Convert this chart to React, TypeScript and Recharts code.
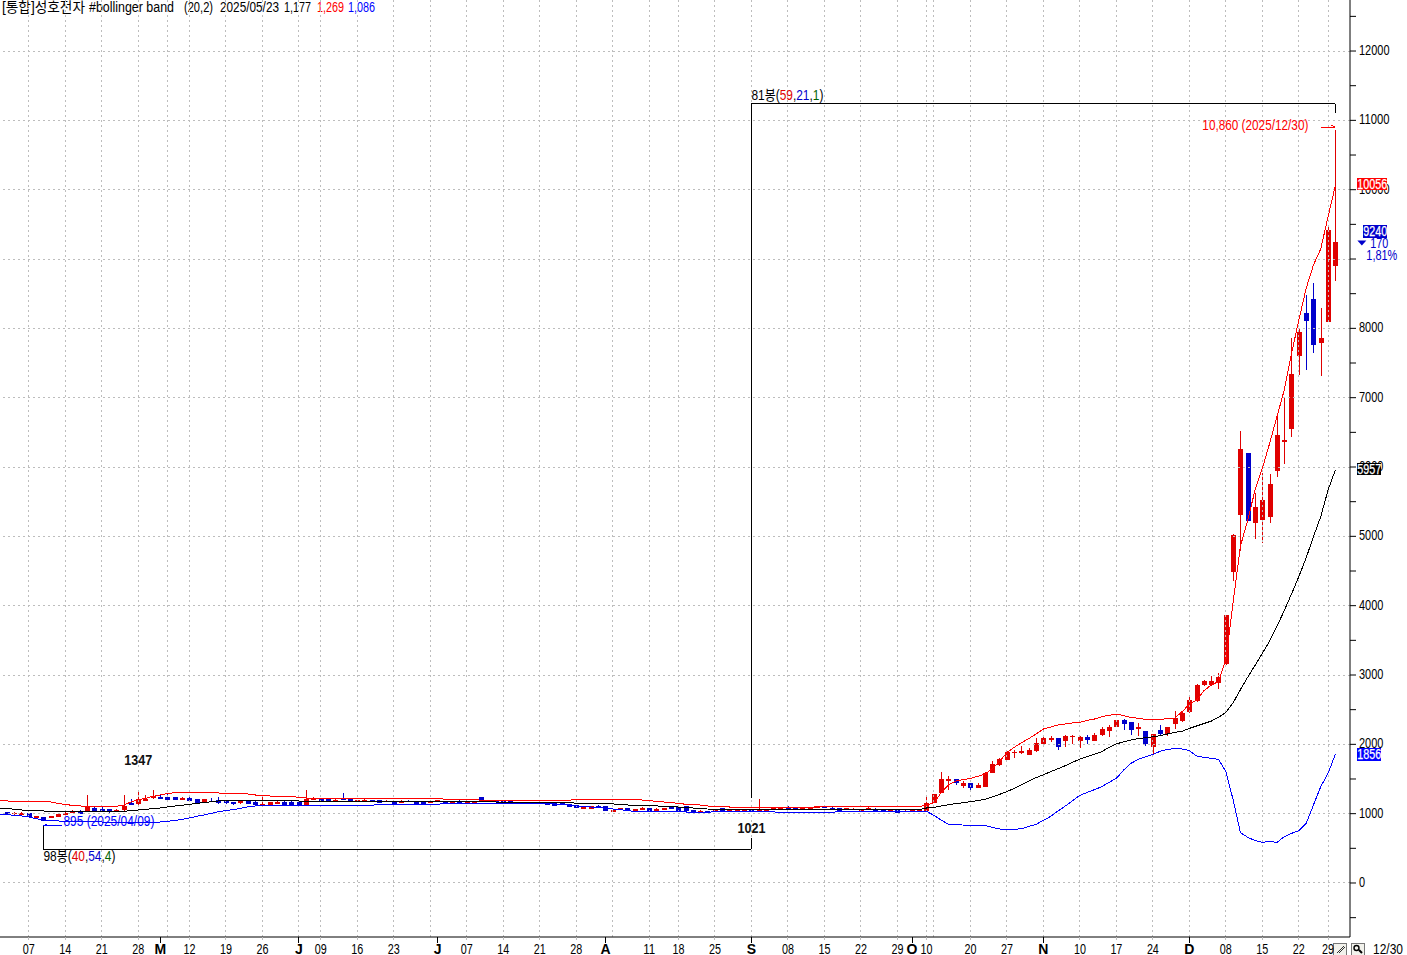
import React from "react";
import { ComposedChart, Bar, Line, XAxis, YAxis, ReferenceLine, ReferenceDot } from "recharts";

const dates = [
  "04/01","04/02","04/03","04/04","04/07","04/08","04/09","04/10","04/11","04/14","04/15",
  "04/16","04/17","04/18","04/21","04/22","04/23","04/24","04/25","04/28","04/29",
  "04/30","05/02","05/07","05/08","05/09","05/12","05/13","05/14","05/15","05/16",
  "05/19","05/20","05/21","05/22","05/23","05/26","05/27","05/28","05/29","05/30",
  "06/02","06/04","06/05","06/09","06/10","06/11","06/12","06/13","06/16","06/17",
  "06/18","06/19","06/20","06/23","06/24","06/25","06/26","06/27","06/30","07/01",
  "07/02","07/03","07/04","07/07","07/08","07/09","07/10","07/11","07/14","07/15",
  "07/16","07/17","07/18","07/21","07/22","07/23","07/24","07/25","07/28","07/29",
  "07/30","07/31","08/01","08/04","08/05","08/06","08/07","08/08","08/11","08/12",
  "08/13","08/14","08/18","08/19","08/20","08/21","08/22","08/25","08/26","08/27",
  "08/28","08/29","09/01","09/02","09/03","09/04","09/05","09/08","09/09","09/10",
  "09/11","09/12","09/15","09/16","09/17","09/18","09/19","09/22","09/23","09/24",
  "09/25","09/26","09/29","09/30","10/01","10/02","10/10","10/13","10/14","10/15",
  "10/16","10/17","10/20","10/21","10/22","10/23","10/24","10/27","10/28","10/29",
  "10/30","10/31","11/03","11/04","11/05","11/06","11/07","11/10","11/11","11/12",
  "11/13","11/14","11/17","11/18","11/19","11/20","11/21","11/24","11/25","11/26",
  "11/27","11/28","12/01","12/02","12/03","12/04","12/05","12/08","12/09","12/10",
  "12/11","12/12","12/15","12/16","12/17","12/18","12/19","12/22","12/23","12/24",
  "12/26","12/29","12/30",
];

const opens = [
  null,1020,1000,986,1005,952,952,943,952,981,1015,
  1039,1024,1082,1063,1063,1039,1053,1149,1135,1188,
  1222,1236,1246,1236,1217,1226,1207,1174,1188,1198,
  1178,1169,1149,1178,1164,1130,1130,1159,1174,1174,
  1169,1130,1207,1212,1212,1178,1216,1212,1188,1178,
  1197,1197,1183,1173,1154,1188,1173,1173,1154,1183,
  1178,1154,1178,1154,1154,1241,1178,1188,1188,1183,
  1154,1164,1164,1154,1159,1159,1159,1140,1125,1067,
  1067,1116,1111,1039,1053,1082,1053,1053,1082,1053,
  1053,1091,1091,1111,1053,1024,1034,1034,1082,1034,
  1034,1034,1063,1034,1034,1063,1063,1091,1087,1063,
  1063,1082,1101,1087,1082,1063,1053,1058,1077,1072,
  1053,1039,1053,1034,1034,1034,1043,1158,1303,1476,
  1495,1404,1442,1375,1389,1591,1707,1779,1875,1880,
  1851,1904,2009,2072,2091,2053,2115,2053,2106,2053,
  2134,2192,2255,2351,2317,2231,2187,1966,2202,2149,
  2298,2336,2466,2625,2860,2851,2889,3163,4490,5308,
  6200,5197,5240,5284,5947,6361,6553,7606,8221,8423,
  7789,8096,8904,
];
const highs = [
  null,1029,1029,1020,1010,967,957,972,1000,1020,1053,
  1053,1270,1101,1101,1068,1073,1274,1207,1347,1270,
  1342,1270,1284,1241,1246,1246,1212,1217,1226,1236,
  1183,1174,1183,1183,1178,1236,1174,1183,1178,1178,
  1174,1342,1241,1216,1216,1221,1298,1216,1202,1221,
  1202,1202,1202,1178,1197,1202,1178,1178,1178,1197,
  1183,1178,1202,1178,1178,1246,1197,1192,1192,1188,
  1173,1168,1168,1173,1164,1164,1173,1144,1130,1106,
  1116,1130,1116,1058,1087,1087,1067,1096,1087,1082,
  1082,1096,1096,1116,1058,1053,1039,1063,1087,1063,
  1063,1063,1068,1216,1068,1096,1096,1116,1091,1091,
  1091,1111,1111,1106,1087,1087,1077,1072,1101,1077,
  1058,1053,1058,1048,1067,1067,1245,1283,1601,1543,
  1495,1476,1442,1447,1595,1755,1807,1904,1918,1976,
  1947,2086,2110,2120,2091,2134,2134,2115,2134,2158,
  2245,2274,2351,2365,2317,2307,2187,2144,2274,2250,
  2476,2471,2678,2865,2928,2985,3033,3865,5030,6519,
  6200,5620,5909,5894,6726,6990,7856,7990,8481,8659,
  8289,9491,10860,
];
const lows = [
  null,981,986,981,943,947,895,938,947,976,1010,
  995,1020,1034,1048,1015,1034,1044,1135,1130,1183,
  1217,1222,1198,1198,1198,1183,1154,1169,1169,1145,
  1145,1130,1145,1140,1116,1125,1125,1154,1120,1120,
  1116,1125,1202,1168,1168,1173,1192,1168,1183,1173,
  1168,1149,1178,1125,1149,1173,1125,1125,1149,1178,
  1144,1149,1144,1149,1149,1187,1173,1163,1168,1144,
  1149,1144,1144,1149,1125,1111,1144,1091,1077,1062,
  1062,1082,1038,1034,1048,1038,1048,1048,1029,1048,
  1048,1067,1029,1029,1005,1019,1005,1029,1029,1029,
  1029,1029,1021,1029,1029,1058,1058,1077,1058,1058,
  1058,1077,1082,1067,1029,1058,1048,1053,1072,1029,
  1024,1034,1010,1029,1029,1029,1029,1150,1293,1341,
  1413,1375,1317,1365,1385,1585,1687,1770,1807,1860,
  1841,1894,1995,2038,1918,1961,2005,1952,2005,2048,
  2125,2110,2250,2207,2139,2120,1980,1860,2115,2125,
  2221,2327,2456,2606,2846,2846,2798,3139,4361,4793,
  5221,4966,4909,5197,5861,6048,6438,7327,7399,7645,
  7318,8096,8688,
];
const closes = [
  null,986,1015,1015,947,967,899,967,996,1015,1034,
  1000,1101,1039,1053,1020,1053,1111,1140,1207,1207,
  1255,1226,1202,1202,1226,1188,1159,1212,1174,1149,
  1149,1135,1178,1145,1121,1140,1169,1169,1125,1125,
  1121,1212,1221,1173,1173,1197,1197,1173,1197,1197,
  1173,1154,1188,1130,1173,1178,1130,1130,1173,1192,
  1149,1173,1149,1173,1173,1192,1192,1168,1173,1149,
  1168,1149,1149,1168,1130,1116,1149,1096,1082,1101,
  1111,1087,1043,1053,1082,1043,1063,1082,1034,1063,
  1077,1072,1034,1034,1010,1034,1010,1063,1034,1058,
  1058,1058,1034,1063,1063,1091,1091,1082,1063,1087,
  1087,1106,1087,1072,1034,1082,1072,1063,1082,1034,
  1029,1048,1015,1043,1063,1063,1149,1279,1500,1500,
  1437,1442,1370,1418,1591,1716,1793,1889,1894,1904,
  1918,2019,2091,2091,1966,2120,2125,2106,2067,2130,
  2221,2250,2346,2298,2211,2245,2009,2144,2149,2250,
  2375,2447,2639,2856,2913,2913,2971,3865,5019,6260,
  5221,5419,5519,5750,6457,6390,7342,7947,8111,7765,
  7861,9419,9240,
];
const upperBand = [
  1188,1183,1178,1178,1178,1178,1178,1169,1149,1130,1121,
  1111,1106,1106,1106,1106,1106,1125,1169,1198,1222,
  1250,1270,1289,1303,1308,1308,1303,1303,1303,1298,
  1298,1294,1294,1284,1270,1255,1255,1250,1246,1246,
  1236,1226,1221,1221,1221,1221,1221,1221,1221,1221,
  1221,1221,1221,1221,1221,1221,1221,1221,1221,1221,
  1207,1207,1207,1207,1207,1192,1192,1192,1192,1192,
  1192,1192,1192,1192,1192,1192,1192,1192,1207,1207,
  1207,1207,1207,1207,1207,1202,1202,1197,1188,1178,
  1168,1159,1149,1135,1125,1125,1111,1101,1101,1096,
  1087,1087,1087,1087,1087,1087,1087,1087,1087,1087,
  1087,1101,1101,1101,1101,1101,1101,1101,1101,1101,
  1101,1101,1101,1101,1101,1101,1125,1158,1303,1413,
  1471,1490,1509,1538,1572,1649,1755,1880,1957,2024,
  2082,2149,2221,2250,2279,2293,2308,2317,2346,2365,
  2399,2418,2437,2413,2389,2375,2360,2356,2360,2370,
  2380,2471,2577,2639,2774,2856,2904,3220,4058,4860,
  5236,5668,5981,6341,6726,7111,7640,8120,8577,8914,
  9145,9611,10058,
];
const middleBand = [
  1082,1077,1063,1053,1048,1044,1039,1034,1034,1034,1034,
  1034,1034,1034,1034,1034,1034,1034,1044,1053,1063,
  1073,1082,1097,1111,1121,1135,1149,1159,1173,1183,
  1183,1183,1183,1183,1183,1183,1183,1183,1183,1183,
  1183,1173,1173,1173,1173,1173,1173,1173,1173,1173,
  1173,1173,1173,1173,1173,1173,1178,1178,1178,1178,
  1178,1178,1173,1173,1173,1173,1170,1168,1164,1164,
  1164,1164,1162,1162,1160,1159,1157,1155,1153,1151,
  1149,1149,1144,1140,1135,1125,1120,1116,1116,1111,
  1106,1101,1096,1092,1082,1072,1067,1063,1063,1063,
  1063,1063,1063,1063,1063,1063,1063,1063,1063,1063,
  1063,1067,1067,1067,1067,1067,1067,1067,1067,1067,
  1067,1067,1067,1063,1058,1058,1082,1091,1110,1130,
  1144,1158,1173,1187,1207,1240,1279,1317,1365,1418,
  1471,1519,1562,1606,1649,1692,1740,1788,1822,1860,
  1894,1957,2005,2038,2062,2082,2096,2110,2125,2149,
  2173,2187,2230,2265,2300,2335,2390,2462,2600,2790,
  2970,3140,3312,3490,3700,3930,4170,4420,4690,4995,
  5284,5668,5957,
];
const lowerBand = [
  990,986,976,967,952,928,909,904,895,890,885,
  885,880,880,880,875,875,875,875,871,871,
  871,880,890,900,919,938,962,981,1005,1029,
  1044,1058,1077,1097,1111,1116,1116,1116,1116,1116,
  1116,1120,1120,1120,1120,1120,1120,1120,1120,1120,
  1120,1135,1135,1135,1135,1135,1135,1135,1135,1135,
  1149,1149,1149,1149,1149,1149,1149,1149,1149,1149,
  1149,1149,1149,1149,1144,1140,1135,1125,1111,1101,
  1096,1092,1077,1067,1058,1043,1034,1034,1034,1034,
  1029,1029,1024,1024,1019,1015,1015,1034,1034,1034,
  1030,1029,1029,1028,1026,1024,1023,1022,1019,1017,
  1015,1015,1015,1015,1034,1034,1034,1034,1034,1034,
  1034,1034,1034,1034,1034,1034,1033,976,908,846,
  841,836,836,836,831,803,779,774,774,783,
  817,846,904,961,1038,1110,1187,1264,1307,1346,
  1389,1452,1509,1630,1726,1783,1822,1856,1899,1928,
  1937,1933,1909,1832,1813,1798,1784,1606,1197,726,
  659,611,586,601,586,668,716,755,861,1125,
  1390,1582,1856,
];

const gridDates = [
  "04/07","04/14","04/21","04/28","05/07","05/12","05/19","05/26","06/02","06/09",
  "06/16","06/23","06/30","07/07","07/14","07/21","07/28","08/04","08/11","08/18",
  "08/25","09/01","09/08","09/15","09/22","09/29","10/10","10/13","10/20","10/27",
  "11/03","11/10","11/17","11/24","12/01","12/08","12/15","12/22","12/29",
];
const tickDates = [
  "04/07","04/14","04/21","04/28","05/02","05/12","05/19","05/26","06/02","06/09",
  "06/16","06/23","07/01","07/07","07/14","07/21","07/28","08/01","08/11","08/18",
  "08/25","09/01","09/08","09/15","09/22","09/29","10/01","10/10","10/20","10/27",
  "11/03","11/10","11/17","11/24","12/01","12/08","12/15","12/22","12/29",
];
const tickLabels = [
  "07","14","21","28","M","12","19","26","J","09",
  "16","23","J","07","14","21","28","A","11","18",
  "25","S","08","15","22","29","O","10","20","27",
  "N","10","17","24","D","08","15","22","29",
];
const priceTicks = [-500,0,500,1000,1500,2000,2500,3000,3500,4000,4500,5000,5500,6000,6500,7000,7500,8000,8500,9000,9500,10000,10500,11000,11500,12000,12500];
const priceGrid = [0,1000,2000,3000,4000,5000,6000,7000,8000,9000,10000,11000,12000];
const hiddenPriceLabels = [9000, 10000, 6000];
const coveredPriceLabels = [10000, 6000];

const FONT = '"Liberation Sans","Noto Sans CJK KR",sans-serif';
const RED = "#E00000";
const BLUE = "#0000CC";
const GRID = "#BDBDBD";

const rows = dates.map((date, i) => ({
  date,
  open: opens[i],
  high: highs[i],
  low: lows[i],
  close: closes[i],
  range: highs[i] == null ? null : [lows[i], highs[i]],
  upper: upperBand[i],
  middle: middleBand[i],
  lower: lowerBand[i],
}));

function Candle(props: any) {
  const { x, y, width, height, payload } = props;
  if (payload.high == null) return null;
  const k = height / Math.max(1, payload.high - payload.low);
  const top = y + (payload.high - Math.max(payload.open, payload.close)) * k;
  const bodyH = Math.max(1.6, Math.abs(payload.open - payload.close) * k);
  const color = payload.close >= payload.open ? RED : BLUE;
  const cx = Math.round(x + width / 2);
  return (
    <g shapeRendering="crispEdges">
      <rect x={cx} y={y} width={1} height={height} fill={color} />
      <rect x={cx - 2} y={top} width={5} height={bodyH} fill={color} />
    </g>
  );
}

const narrow = (w: number) => ({ textLength: w, lengthAdjust: "spacingAndGlyphs" as const });
const textProps = { fontFamily: FONT, fontSize: 14 };

function XTick(props: any) {
  const { x, payload } = props;
  const label = tickLabels[tickDates.indexOf(payload.value)];
  const month = /[A-Z]/.test(label);
  const isGrid = gridDates.includes(payload.value);
  return (
    <g>
      {month && <line x1={x} x2={x} y1={937} y2={943} stroke="#000" shapeRendering="crispEdges" />}
      {isGrid && !month && <line x1={x} x2={x} y1={937} y2={940} stroke={GRID} shapeRendering="crispEdges" />}
      {month ? (
        <text x={x} y={954} textAnchor="middle" {...textProps} fontWeight={700} fill="#000">
          {label}
        </text>
      ) : (
        <text x={x} y={954} textAnchor="middle" {...textProps} {...narrow(12)} fill="#000">
          {label}
        </text>
      )}
    </g>
  );
}

function YTick(props: any) {
  const { y, payload } = props;
  if (payload.value % 1000 !== 0 || hiddenPriceLabels.includes(payload.value)) return <g />;
  const s = String(payload.value);
  return (
    <text x={1359} y={y + 4} textAnchor="start" {...textProps} {...narrow(s.length * 6.1)} fill="#000">
      {s}
    </text>
  );
}

function PriceFlag({ value, bg, label, dx, w, up }: { value: number; bg: string; label: string; dx: number; w: number; up: number }) {
  return (
    <ReferenceDot
      x="12/30"
      y={value}
      r={0}
      ifOverflow="visible"
      shape={(p: any) => (
        <g>
          <rect x={p.cx + dx} y={p.cy - up} width={w} height={12.5} fill={bg} shapeRendering="crispEdges" />
          <text x={p.cx + dx} y={p.cy - up + 11} {...textProps} {...narrow(w)} fill="#fff" stroke="#fff" strokeWidth={0.25}>
            {label}
          </text>
        </g>
      )}
    />
  );
}

export default function App() {
  return (
    <div style={{ position: "absolute", left: 0, top: 0, width: 1407, height: 955, background: "#fff" }}>
      <ComposedChart
        width={1407}
        height={955}
        data={rows}
        margin={{ top: 0, right: 0, bottom: 0, left: 0 }}
        barCategoryGap={0}
      >
        <XAxis
          dataKey="date"
          ticks={tickDates}
          interval={0}
          height={18}
          tickLine={false}
          tick={<XTick />}
          padding={{ left: -4, right: 11 }}
          axisLine={{ stroke: "#000" }}
        />
        <YAxis
          orientation="right"
          width={57}
          type="number"
          domain={[-779, 12736]}
          allowDataOverflow
          ticks={priceTicks}
          interval={0}
          tickSize={6}
          tickMargin={3}
          tick={<YTick />}
          tickLine={{ stroke: "#000" }}
          axisLine={{ stroke: "#000" }}
        />
        {priceGrid.map((v) => (
          <ReferenceLine key={v} y={v} stroke={GRID} strokeDasharray="2 3" shapeRendering="crispEdges" />
        ))}
        {gridDates.map((d) => (
          <ReferenceLine key={d} x={d} stroke={GRID} strokeDasharray="2 3" shapeRendering="crispEdges" />
        ))}
        <Bar dataKey="range" barSize={5} isAnimationActive={false} shape={<Candle />} />
        <Line dataKey="upper" type="linear" stroke="#FF0000" strokeWidth={1} dot={false} activeDot={false} isAnimationActive={false} shapeRendering="crispEdges" />
        <Line dataKey="middle" type="linear" stroke="#000000" strokeWidth={1} dot={false} activeDot={false} isAnimationActive={false} shapeRendering="crispEdges" />
        <Line dataKey="lower" type="linear" stroke="#0000FF" strokeWidth={1} dot={false} activeDot={false} isAnimationActive={false} shapeRendering="crispEdges" />

        <ReferenceLine segment={[{ x: "09/01", y: 1226 }, { x: "09/01", y: 11236 }]} stroke="#000" ifOverflow="visible" shapeRendering="crispEdges" />
        <ReferenceLine segment={[{ x: "09/01", y: 11236 }, { x: "12/30", y: 11236 }]} stroke="#000" ifOverflow="visible" shapeRendering="crispEdges" />
        <ReferenceLine segment={[{ x: "12/30", y: 11236 }, { x: "12/30", y: 11106 }]} stroke="#000" ifOverflow="visible" shapeRendering="crispEdges" />
        <ReferenceLine segment={[{ x: "04/09", y: 822 }, { x: "04/09", y: 490 }]} stroke="#000" ifOverflow="visible" shapeRendering="crispEdges" />
        <ReferenceLine segment={[{ x: "04/09", y: 490 }, { x: "09/01", y: 490 }]} stroke="#000" ifOverflow="visible" shapeRendering="crispEdges" />
        <ReferenceLine segment={[{ x: "09/01", y: 490 }, { x: "09/01", y: 649 }]} stroke="#000" ifOverflow="visible" shapeRendering="crispEdges" />

        <ReferenceDot x="09/01" y={11236} r={0} ifOverflow="visible" shape={(p: any) => (
          <text x={p.cx} y={p.cy - 4} {...textProps} {...narrow(72)}>
            81봉(<tspan fill="#E00000">59</tspan>,<tspan fill="#0000CC">21</tspan>,<tspan fill="#006400">1</tspan>)
          </text>
        )} />
        <ReferenceDot x="04/09" y={490} r={0} ifOverflow="visible" shape={(p: any) => (
          <text x={p.cx} y={p.cy + 12} {...textProps} {...narrow(72)}>
            98봉(<tspan fill="#E00000">40</tspan>,<tspan fill="#0000CC">54</tspan>,<tspan fill="#006400">4</tspan>)
          </text>
        )} />
        <ReferenceDot x="12/30" y={10860} r={0} ifOverflow="visible" shape={(p: any) => (
          <g>
            <text x={p.cx - 133} y={p.cy} {...textProps} {...narrow(106)} fill="#FF0000">10,860 (2025/12/30)</text>
            <path d={`M${p.cx - 14} ${p.cy - 3}H${p.cx}M${p.cx} ${p.cy - 3}l-4 -2`} stroke="#FF0000" fill="none" shapeRendering="crispEdges" />
          </g>
        )} />
        <ReferenceDot x="04/09" y={895} r={0} ifOverflow="visible" shape={(p: any) => (
          <g>
            <text x={p.cx + 20} y={p.cy + 5} {...textProps} {...narrow(91)} fill="#0000FF">895 (2025/04/09)</text>
            <path d={`M${p.cx + 19} ${p.cy + 5}H${p.cx}M${p.cx} ${p.cy + 5}l4 -2`} stroke="#0000FF" fill="none" shapeRendering="crispEdges" />
          </g>
        )} />
        <ReferenceDot x="04/28" y={1347} r={0} ifOverflow="visible" shape={(p: any) => (
          <text x={p.cx} y={p.cy - 25} {...textProps} {...narrow(28)} fontWeight={700} textAnchor="middle" fill="#111">1347</text>
        )} />
        <ReferenceDot x="09/01" y={1021} r={0} ifOverflow="visible" shape={(p: any) => (
          <text x={p.cx} y={p.cy + 21} {...textProps} {...narrow(28)} fontWeight={700} textAnchor="middle" fill="#111">1021</text>
        )} />

        {coveredPriceLabels.map((v) => (
          <ReferenceDot key={v} x="12/30" y={v} r={0} ifOverflow="visible" shape={(p: any) => (
            <text x={1359} y={p.cy + 4} {...textProps} {...narrow(String(v).length * 6.1)} fill="#000">{v}</text>
          )} />
        ))}
        <PriceFlag value={10056} bg="#FF0000" label="10056" dx={22} w={30} up={8} />
        <PriceFlag value={9240} bg="#0000CC" label="9240" dx={28} w={24} up={17} />
        <PriceFlag value={5957} bg="#000000" label="5957" dx={22} w={24} up={7} />
        <PriceFlag value={1856} bg="#0000FF" label="1856" dx={22} w={24} up={6} />
        <ReferenceDot x="12/30" y={9240} r={0} ifOverflow="visible" shape={(p: any) => (
          <g>
            <path d={`M${p.cx + 22} ${p.cy - 2}h9l-4.5 5z`} fill="#0000CC" />
            <text x={p.cx + 35} y={p.cy + 6} {...textProps} {...narrow(18)} fill="#0000CC">170</text>
            <text x={p.cx + 31} y={p.cy + 18} {...textProps} {...narrow(31)} fill="#0000CC">1,81%</text>
          </g>
        )} />

        <text x={2} y={12} {...textProps} {...narrow(83)}>[통합]성호전자</text>
        <text x={89} y={12} {...textProps} {...narrow(85)}>#bollinger band</text>
        <text x={184} y={12} {...textProps} {...narrow(29)}>(20,2)</text>
        <text x={220} y={12} {...textProps} {...narrow(59)}>2025/05/23</text>
        <text x={284} y={12} {...textProps} {...narrow(27)}>1,177</text>
        <text x={317} y={12} {...textProps} {...narrow(27)} fill="#FF0000">1,269</text>
        <text x={348} y={12} {...textProps} {...narrow(27)} fill="#0000FF">1,086</text>
        <text x={1373} y={954} {...textProps} {...narrow(30)}>12/30</text>
        <g shapeRendering="crispEdges">
          <rect x={1333.5} y={943.5} width={13} height={12} fill="#F2F2EC" stroke="#777" />
          <path d="M1337 953l7 -7M1339 953l6 -6" stroke="#333" />
          <rect x={1351.5} y={943.5} width={13} height={12} fill="#F2F2EC" stroke="#777" />
        </g>
        <circle cx={1356.5} cy={948} r={2.5} fill="none" stroke="#000" strokeWidth={1.4} />
        <path d="M1359 950l3 3" stroke="#000" strokeWidth={2} />
      </ComposedChart>
    </div>
  );
}
